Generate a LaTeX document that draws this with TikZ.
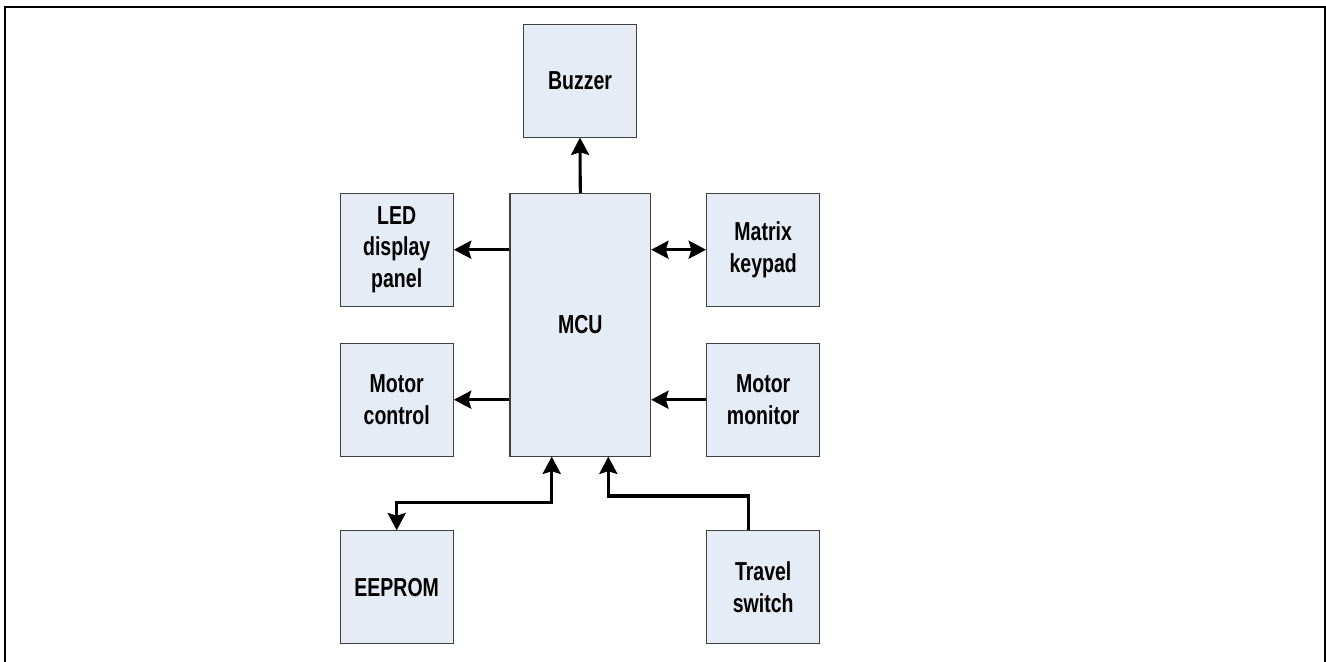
\documentclass[tikz,border=0pt]{standalone}
\usepackage{fontspec}
\setmainfont[FakeStretch=0.75]{Liberation Sans}
\usetikzlibrary{arrows.meta}
\definecolor{boxfill}{HTML}{E6ECF6}
\definecolor{boxline}{HTML}{404040}
\begin{document}
\begin{tikzpicture}[x=0.75pt,y=-0.75pt,
  blk/.style={draw=boxline,line width=0.8pt,fill=boxfill,align=center,
    font=\fontsize{19.5}{23.8}\selectfont\bfseries,inner sep=0pt,
    minimum width=85pt,minimum height=84.5pt},
  mcu/.style={blk,minimum width=105.5pt,minimum height=197pt},
  arr/.style={line width=2.3pt,
    arrows={-Stealth[length=13pt,width=13.5pt,inset=2pt]}},
  barr/.style={line width=2.3pt,
    arrows={Stealth[length=13pt,width=13.5pt,inset=2pt]-Stealth[length=13pt,width=13.5pt,inset=2pt]}}]
\useasboundingbox (0,0) rectangle (1326,661);
\draw[line width=1.5pt] (5,700) -- (5,7) -- (1325,7) -- (1325,700);

\node[mcu] (mcu) at (580.3,324.7) {MCU};
\node[blk] (buz) at (580,80.7) {Buzzer};
\node[blk] (led) at (396.7,249.7) {LED\\display\\panel};
\node[blk] (mat) at (763.2,249.7) {Matrix\\keypad};
\node[blk] (mctl) at (396.7,399.7) {Motor\\control};
\node[blk] (mmon) at (763.2,399.7) {Motor\\monitor};
\node[blk] (eep) at (396.7,587.2) {EEPROM};
\node[blk] (trv) at (763.2,587.2) {Travel\\switch};

\draw[arr] (mcu.north) -- (buz.south);
\draw[arr] (mcu.west |- led.east) -- (led.east);
\draw[barr] (mcu.east |- mat.west) -- (mat.west);
\draw[arr] (mcu.west |- mctl.east) -- (mctl.east);
\draw[arr] (mmon.west) -- (mcu.east |- mmon.west);

\coordinate (ea) at (551.7,502.3);
\draw[barr] (ea |- mcu.south) -- (ea) -| (eep.north);

\coordinate (tb) at (748.3,496);
\coordinate (ta) at (608.3,496);
\draw[arr] (tb |- trv.north) -- (tb) -- (ta) -- (ta |- mcu.south);
\end{tikzpicture}
\end{document}
